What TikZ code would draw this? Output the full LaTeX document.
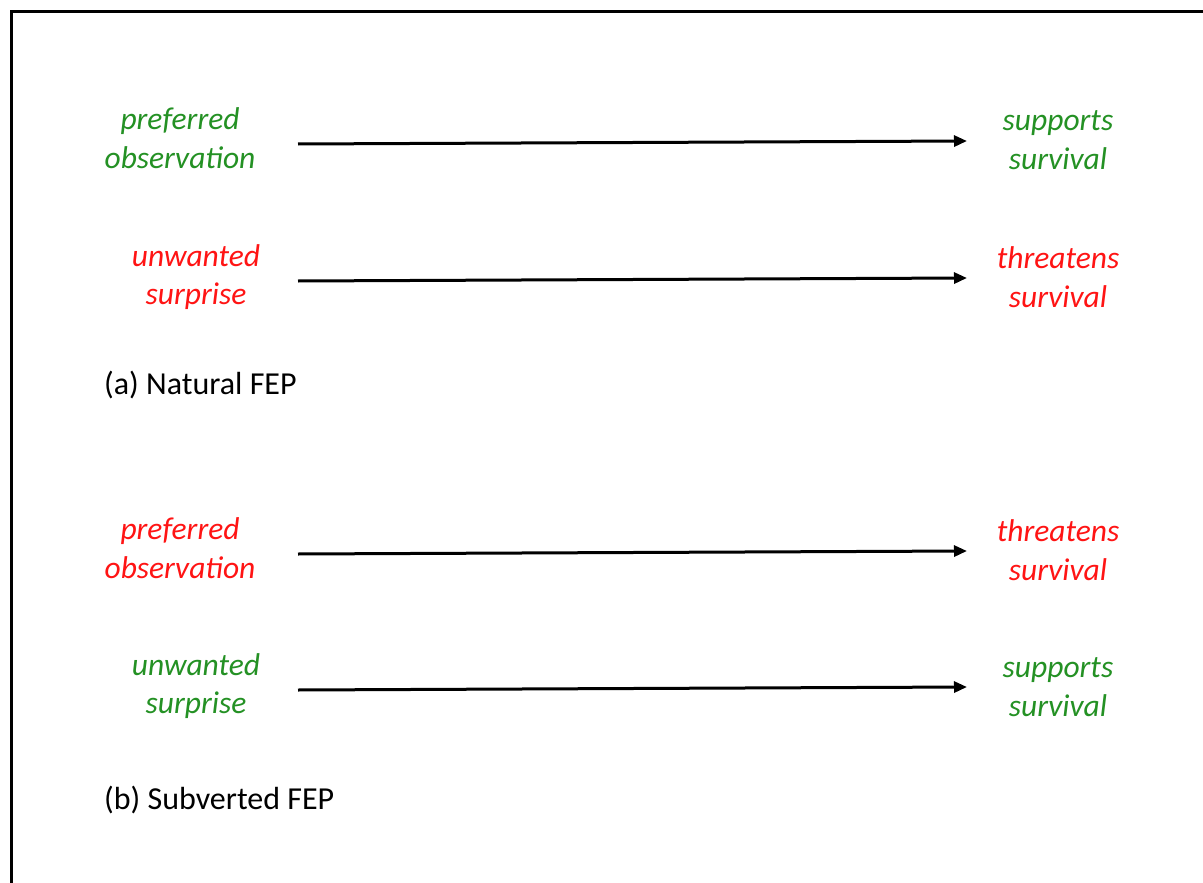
\documentclass[tikz,border=0pt]{standalone}
\usepackage{fontspec}
\setmainfont{Carlito}
\usetikzlibrary{arrows.meta}
\definecolor{fepgreen}{RGB}{36,145,36}
\definecolor{fepred}{RGB}{255,20,20}
\tikzset{
  lbl/.style={align=center,inner sep=0pt,font=\fontsize{31.5}{38.5}\selectfont\itshape},
  good/.style={lbl,text=fepgreen},
  bad/.style={lbl,text=fepred},
  caption/.style={anchor=west,inner sep=0pt,font=\fontsize{32}{38}\selectfont},
  conn/.style={line width=3pt,-{Triangle[length=13pt,width=11pt]}},
  frame/.style={line width=3pt,black}
}
\begin{document}
\begin{tikzpicture}[x=1pt,y=-1pt]
\useasboundingbox (0,0) rectangle (1203,883);
\fill[white] (0,0) rectangle (1203,883);
\draw[frame] (11.5,883) -- (11.5,11.5) -- (1203,11.5);
% (a)
\node[good] (po1) at (180,138) {preferred\\observation};
\node[good] (ss1) at (1058,140) {supports\\survival};
\node[bad] (us1) at (196,277) {unwanted\\surprise};
\node[bad] (ts1) at (1058,277) {threatens\\survival};
\node[caption] (capa) at (104,385) {(a) Natural FEP};
\coordinate (a1s) at (298,144); \coordinate (a1e) at (967,141);
\coordinate (a2s) at (298,281); \coordinate (a2e) at (967,278);
\draw[conn] (a1s) -- (a1e);
\draw[conn] (a2s) -- (a2e);
% (b)
\node[bad] (po2) at (180,548) {preferred\\observation};
\node[bad] (ts2) at (1058,550) {threatens\\survival};
\node[good] (us2) at (196,686) {unwanted\\surprise};
\node[good] (ss2) at (1058,687) {supports\\survival};
\node[caption] (capb) at (104,800) {(b) Subverted FEP};
\coordinate (a3s) at (298,554); \coordinate (a3e) at (967,551);
\coordinate (a4s) at (298,690); \coordinate (a4e) at (967,687);
\draw[conn] (a3s) -- (a3e);
\draw[conn] (a4s) -- (a4e);
\end{tikzpicture}
\end{document}
